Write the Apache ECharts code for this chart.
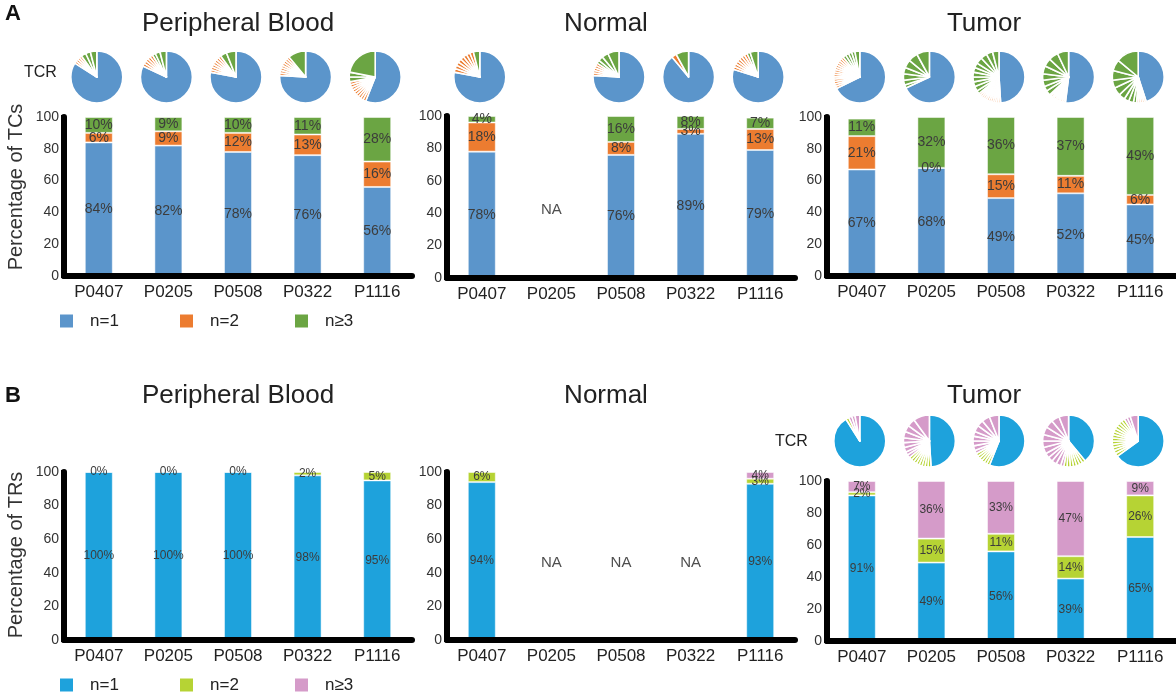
<!DOCTYPE html>
<html>
<head>
<meta charset="utf-8">
<script src="https://cdn.jsdelivr.net/npm/echarts@6/dist/echarts.min.js"></script>
<style>
    html, body { margin: 0; padding: 0; background: #fff; }
    #chart { width: 1176px; height: 700px; }
</style>
</head>
<body>
<div id="chart"></div>
<script>
var patients = ['P0407', 'P0205', 'P0508', 'P0322', 'P1116'];
var cloneSizes = ['n=1', 'n=2', 'n≥3'];

// A - percentage of TCs (conventional T cells)
var tcBloodN1 = [84, 82, 78, 76, 56];
var tcBloodN2 = [6, 9, 12, 13, 16];
var tcBloodN3 = [10, 9, 10, 11, 28];
var tcNormalN1 = [78, null, 76, 89, 79];
var tcNormalN2 = [18, null, 8, 3, 13];
var tcNormalN3 = [4, null, 16, 8, 7];
var tcTumorN1 = [67, 68, 49, 52, 45];
var tcTumorN2 = [21, 0, 15, 11, 6];
var tcTumorN3 = [11, 32, 36, 37, 49];

// B - percentage of TRs (regulatory T cells)
var trBloodN1 = [100, 100, 100, 98, 95];
var trBloodN2 = [0, 0, 0, 2, 5];
var trBloodN3 = [null, null, null, null, null];
var trNormalN1 = [94, null, null, null, 93];
var trNormalN2 = [6, null, null, null, 3];
var trNormalN3 = [null, null, null, null, 4];
var trTumorN1 = [91, 49, 56, 39, 65];
var trTumorN2 = [2, 15, 11, 14, 26];
var trTumorN3 = [7, 36, 33, 47, 9];

// TCR pies: number of n=2 clonotypes, sizes of the n>=3 clonotypes (%), clockwise
var tcBloodPairs = [4, 5, 7, 8, 9];
var tcBloodLarge = [[3, 3, 4], [2, 3, 4], [4, 6], [11], [3, 3, 22]];
var tcNormalPairs = [8, null, 5, 1, 7];
var tcNormalLarge = [[4], null, [2, 3, 4, 7], [8], [2, 5]];
var tcTumorPairs = [14, 0, 12, 10, 5];
var tcTumorLarge = [[2, 2, 2, 2, 3], [2, 3, 4, 4, 5, 6, 8], [2, 3, 3, 3, 3, 3, 3, 4, 4, 4, 4],
    [3, 3, 4, 4, 5, 5, 6, 7], [2, 3, 3, 4, 5, 5, 6, 7, 14]];
var trTumorPairs = [1, 8, 6, 7, 13];
var trTumorLarge = [[2, 2, 3], [2, 2, 3, 3, 3, 4, 4, 5, 10], [2, 3, 3, 3, 3, 4, 4, 5, 6],
    [2, 3, 3, 3, 3, 4, 4, 4, 5, 5, 5, 6], [2, 2, 5]];

var naLevelA = 42;
var naLevelB = 46;

var FONT = 'Arial, "Liberation Sans", Helvetica, sans-serif';
var colorsA = ['#5b95cb', '#ec7c30', '#6ba543'];
var colorsB = ['#1ea2dc', '#b6d334', '#d59bc9'];

var panels = [
    { grid: { left: 64, top: 117, width: 348, height: 159 }, data: [tcBloodN1, tcBloodN2, tcBloodN3], colors: colorsA, fs: 14 },
    { grid: { left: 447, top: 116, width: 348, height: 162 }, data: [tcNormalN1, tcNormalN2, tcNormalN3], colors: colorsA, fs: 14 },
    { grid: { left: 827, top: 117, width: 348, height: 159 }, data: [tcTumorN1, tcTumorN2, tcTumorN3], colors: colorsA, fs: 14 },
    { grid: { left: 64, top: 472, width: 348, height: 168 }, data: [trBloodN1, trBloodN2, trBloodN3], colors: colorsB, fs: 12 },
    { grid: { left: 447, top: 472, width: 348, height: 168 }, data: [trNormalN1, trNormalN2, trNormalN3], colors: colorsB, fs: 12 },
    { grid: { left: 827, top: 481, width: 348, height: 160 }, data: [trTumorN1, trTumorN2, trTumorN3], colors: colorsB, fs: 12 }
];

var grids = [], xAxes = [], yAxes = [], series = [];
panels.forEach(function (p, g) {
    grids.push(p.grid);
    xAxes.push({
        type: 'category', gridIndex: g, data: patients, z: 5,
        axisLine: { show: true, lineStyle: { color: '#000', width: 6 } },
        axisTick: { show: false },
        axisLabel: { interval: 0, fontSize: 17, color: '#222', margin: 8, fontFamily: FONT }
    });
    yAxes.push({
        type: 'value', gridIndex: g, min: 0, max: 100, interval: 20, z: 5,
        axisLine: { show: true, lineStyle: { color: '#000', width: 6 } },
        axisTick: { show: true, length: 3, lineStyle: { color: '#000', width: 4 } },
        axisLabel: { fontSize: 14, color: '#333', margin: 5, fontFamily: FONT },
        splitLine: { show: false }
    });
    p.data.forEach(function (vals, k) {
        series.push({
            name: cloneSizes[k], type: 'bar', stack: 'panel' + g,
            xAxisIndex: g, yAxisIndex: g, barWidth: 28,
            data: vals,
            itemStyle: { color: p.colors[k], borderColor: 'rgba(255,255,255,0.5)', borderWidth: 1 },
            label: {
                show: true, position: 'inside', formatter: '{c}%',
                fontSize: p.fs, color: '#3c3c3c', fontFamily: FONT
            },
            silent: true
        });
    });
});

// NA markers on the Normal panels
series.push({
    type: 'scatter', xAxisIndex: 1, yAxisIndex: 1, symbolSize: 0, silent: true,
    data: [['P0205', naLevelA]],
    label: { show: true, formatter: 'NA', fontSize: 15, color: '#222', fontFamily: FONT }
});
series.push({
    type: 'scatter', xAxisIndex: 4, yAxisIndex: 4, symbolSize: 0, silent: true,
    data: [['P0205', naLevelB], ['P0508', naLevelB], ['P0322', naLevelB]],
    label: { show: true, formatter: 'NA', fontSize: 15, color: '#222', fontFamily: FONT }
});

function txt(text, x, y, size, opts) {
    opts = opts || {};
    return {
        type: 'text', x: x, y: y, rotation: opts.rotation || 0,
        style: {
            text: text, fill: opts.color || '#222',
            font: (opts.bold ? 'bold ' : '') + size + 'px ' + FONT,
            textAlign: opts.align || 'center', textVerticalAlign: 'middle',
            align: opts.align || 'center', verticalAlign: 'middle'
        }
    };
}

function legend(y, colors) {
    var xs = [60, 180, 295];
    var out = [];
    xs.forEach(function (x, k) {
        out.push({ type: 'rect', shape: { x: x, y: y - 6.5, width: 13, height: 13 }, style: { fill: colors[k] } });
        out.push(txt(cloneSizes[k], x + 30, y, 17, { align: 'left' }));
    });
    return out;
}

var graphics = [
    txt('A', 5, 14, 22, { bold: true, align: 'left', color: '#111' }),
    txt('B', 5, 396, 22, { bold: true, align: 'left', color: '#111' }),
    txt('Peripheral Blood', 238, 24, 26),
    txt('Normal', 606, 24, 26),
    txt('Tumor', 984, 24, 26),
    txt('Peripheral Blood', 238, 396, 26),
    txt('Normal', 606, 396, 26),
    txt('Tumor', 984, 396, 26),
    txt('TCR', 24, 73, 16, { align: 'left' }),
    txt('TCR', 775, 442, 16, { align: 'left' }),
    txt('Percentage of TCs', 16, 187, 20, { rotation: Math.PI / 2, color: '#333' }),
    txt('Percentage of TRs', 16, 555, 20, { rotation: Math.PI / 2, color: '#333' })
].concat(legend(321, colorsA), legend(685, colorsB));

var myChart = echarts.init(document.getElementById('chart'));
myChart.setOption({
    animation: false,
    textStyle: { fontFamily: FONT },
    grid: grids,
    xAxis: xAxes,
    yAxis: yAxes,
    series: series,
    graphic: graphics
});

// pies above the bars, placed over each category through the x axis
function pieData(n1, n2, pairs, large, colors) {
    var d = [{ value: n1, itemStyle: { color: colors[0] } }];
    for (var k = 0; k < pairs; k++) {
        d.push({ value: n2 / pairs, itemStyle: { color: colors[1] } });
    }
    large.forEach(function (v) {
        d.push({ value: v, itemStyle: { color: colors[2] } });
    });
    return d;
}

var pieSets = [
    { g: 0, y: 77, n1: tcBloodN1, n2: tcBloodN2, pairs: tcBloodPairs, large: tcBloodLarge, colors: colorsA },
    { g: 1, y: 77, n1: tcNormalN1, n2: tcNormalN2, pairs: tcNormalPairs, large: tcNormalLarge, colors: colorsA },
    { g: 2, y: 77, n1: tcTumorN1, n2: tcTumorN2, pairs: tcTumorPairs, large: tcTumorLarge, colors: colorsA },
    { g: 5, y: 441, n1: trTumorN1, n2: trTumorN2, pairs: trTumorPairs, large: trTumorLarge, colors: colorsB }
];
pieSets.forEach(function (s) {
    patients.forEach(function (pt, i) {
        if (s.large[i] == null) return;
        var x = myChart.convertToPixel({ xAxisIndex: s.g }, pt);
        series.push({
            type: 'pie', center: [x - 2, s.y], radius: 26, startAngle: 90, clockwise: true,
            silent: true, avoidLabelOverlap: false,
            label: { show: false }, labelLine: { show: false },
            itemStyle: { borderColor: '#fff', borderWidth: 1.6 },
            data: pieData(s.n1[i], s.n2[i], s.pairs[i], s.large[i], s.colors)
        });
    });
});
myChart.setOption({ series: series });

window.addEventListener('resize', function () {
    myChart.resize();
});
</script>
</body>
</html>
